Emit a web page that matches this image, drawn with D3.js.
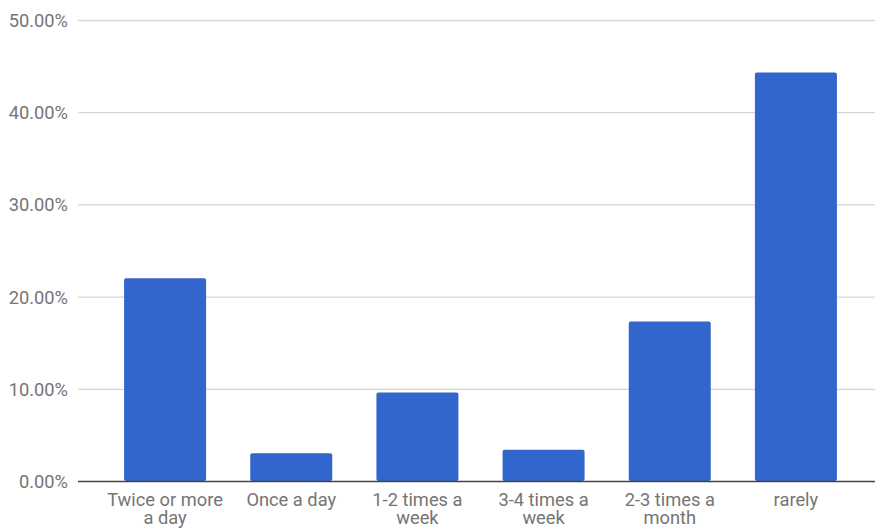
<!DOCTYPE html>
<html>
<head>
<meta charset="utf-8">
<script src="https://cdn.jsdelivr.net/npm/d3@7"></script>
<style>
  html, body { margin: 0; padding: 0; background: #fff; }
  svg { display: block; }
  text { font-family: Roboto, "Noto Sans", Arial, sans-serif; fill: #757575; }
</style>
</head>
<body>
<svg id="chart" width="875" height="529"></svg>
<script>
// Frequency categories (each may wrap onto two lines)
const categories = [
  ["Twice or more", "a day"],
  ["Once a day"],
  ["1-2 times a", "week"],
  ["3-4 times a", "week"],
  ["2-3 times a", "month"],
  ["rarely"]
];
// Share of respondents, percent
const shares = [22.0, 3.0, 9.6, 3.4, 17.3, 44.3];
const yTicks = [0, 10, 20, 30, 40, 50];

const svg = d3.select("#chart");
const W = 875;
const gridLeft = 78;

const x = d3.scaleBand()
  .domain(d3.range(categories.length))
  .range([102, 859])
  .paddingInner(0.35)
  .paddingOuter(0.175);

const y = d3.scaleLinear().domain([0, 50]).range([481, 20]);

// Horizontal gridlines
svg.append("g")
  .selectAll("line")
  .data(yTicks.filter(d => d !== 0))
  .join("line")
  .attr("x1", gridLeft)
  .attr("x2", W)
  .attr("y1", d => y(d) + 0.5)
  .attr("y2", d => y(d) + 0.5)
  .attr("stroke", "#d6d6d6")
  .attr("stroke-width", 1.3);

// Y axis labels
const yAxis = d3.axisLeft(y)
  .tickValues(yTicks)
  .tickSize(0)
  .tickPadding(0)
  .tickFormat(d => d.toFixed(2) + "%");

svg.append("g")
  .attr("transform", "translate(68,0)")
  .call(yAxis)
  .call(g => g.select(".domain").remove())
  .call(g => g.selectAll("text")
    .attr("font-size", 18.3)
    .attr("font-family", null)
    .attr("dy", "0.36em")
    .attr("fill", "#757575"));

// Bars
svg.append("g")
  .selectAll("rect")
  .data(shares)
  .join("rect")
  .attr("x", (d, i) => x(i))
  .attr("width", x.bandwidth())
  .attr("y", d => y(d))
  .attr("height", d => y(0) - y(d))
  .attr("rx", 2)
  .attr("fill", "#3366cc");

// Baseline
svg.append("line")
  .attr("x1", gridLeft)
  .attr("x2", W)
  .attr("y1", y(0) + 0.5)
  .attr("y2", y(0) + 0.5)
  .attr("stroke", "#444")
  .attr("stroke-width", 1.3);

// Category labels
const labels = svg.append("g")
  .selectAll("text")
  .data(categories)
  .join("text")
  .attr("text-anchor", "middle")
  .attr("font-size", 18.3)
  .attr("x", (d, i) => x(i) + x.bandwidth() / 2);

labels.selectAll("tspan")
  .data((d, i) => d.map(line => ({ line, i })))
  .join("tspan")
  .attr("x", d => x(d.i) + x.bandwidth() / 2)
  .attr("y", (d, j) => 506 + j * 17.5)
  .text(d => d.line);
</script>
</body>
</html>
